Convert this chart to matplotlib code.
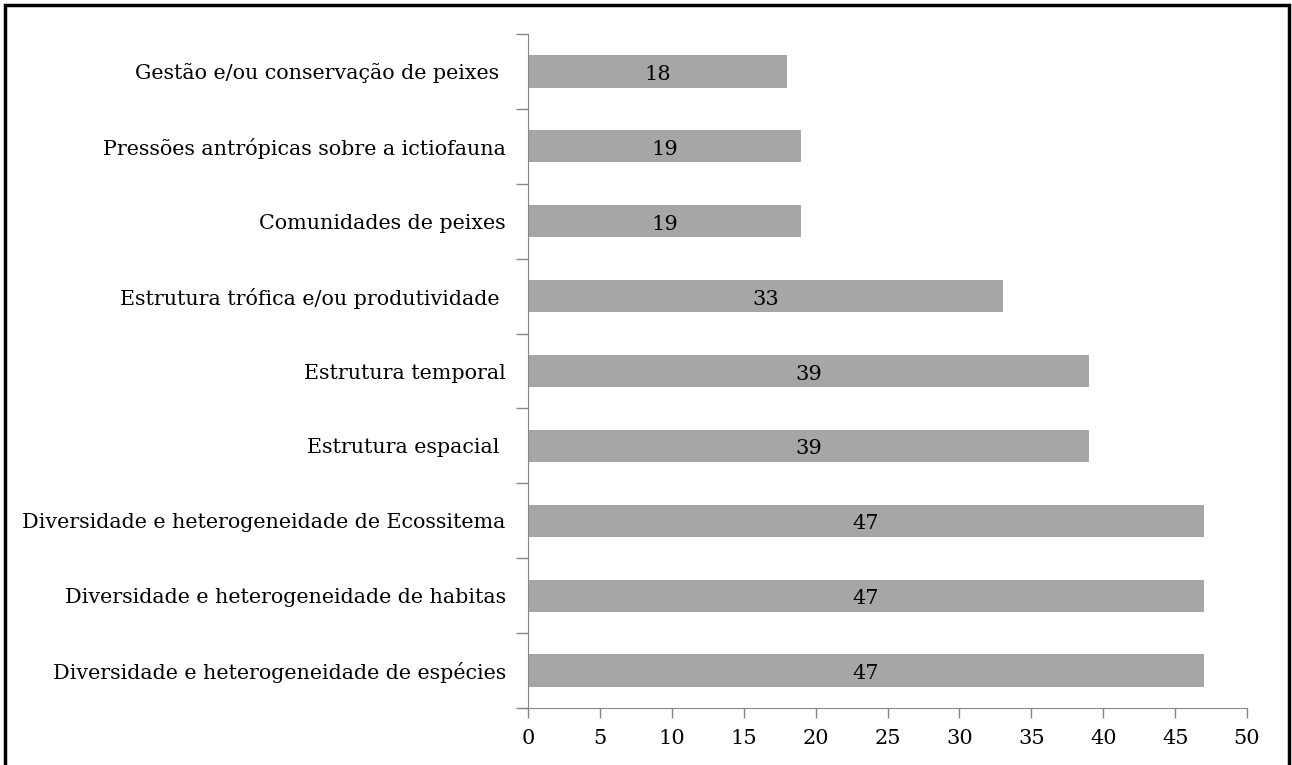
import matplotlib.pyplot as plt
from matplotlib.patches import Rectangle
import numpy as np

# categories from bottom to top
categorias = [
    "Diversidade e heterogeneidade de espécies",
    "Diversidade e heterogeneidade de habitas",
    "Diversidade e heterogeneidade de Ecossitema",
    "Estrutura espacial ",
    "Estrutura temporal",
    "Estrutura trófica e/ou produtividade ",
    "Comunidades de peixes",
    "Pressões antrópicas sobre a ictiofauna",
    "Gestão e/ou conservação de peixes ",
]
valores = [47, 47, 47, 39, 39, 33, 19, 19, 18]
xticks = [0, 5, 10, 15, 20, 25, 30, 35, 40, 45, 50]

plt.rcParams['font.family'] = ['DejaVu Serif']

fig = plt.figure(figsize=(12.92, 7.65), dpi=100)
ax = fig.add_axes([0.4087, 0.0745, 0.5565, 0.881])

y = np.arange(len(categorias))
ax.barh(y, valores, height=0.43, color='#a6a6a6')

for yi, v in zip(y, valores):
    ax.text(v / 2, yi - 0.04, str(v), ha='center', va='center', fontsize=15, color='black')

ax.set_xlim(0, 50)
ax.set_ylim(-0.5, len(categorias) - 0.5)
ax.set_xticks(xticks)
ax.set_xticklabels([str(t) for t in xticks], fontsize=15)
ax.set_yticks(y)
ax.set_yticklabels(categorias, fontsize=14.9)
ax.set_yticks(np.arange(-0.5, len(categorias)), minor=True)

ax.tick_params(axis='y', which='major', length=0, pad=16)
ax.tick_params(axis='y', which='minor', length=9, color='#868686', width=1)
ax.tick_params(axis='x', length=7, color='#868686', width=1, pad=8)

for s in ['top', 'right']:
    ax.spines[s].set_visible(False)
for s in ['left', 'bottom']:
    ax.spines[s].set_color('#868686')
ax.spines['bottom'].set_bounds(-0.5, 50)

# frame around the picture
fig.patches.append(Rectangle((0.0035, -0.05), 0.9945, 1.043, transform=fig.transFigure,
                             fill=False, edgecolor='black', linewidth=2.5))

fig.savefig('out.png', dpi=100)
